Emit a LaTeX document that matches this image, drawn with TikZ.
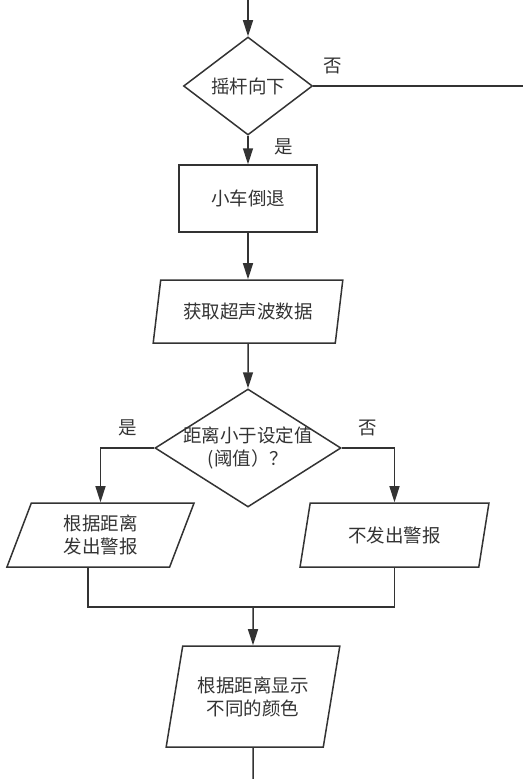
\documentclass[tikz,border=0pt]{standalone}
\usepackage{fontspec}
\newfontfamily\cjk{Noto Sans CJK SC}
\usetikzlibrary{shapes.geometric,arrows.meta}
\definecolor{ink}{HTML}{333333}

\begin{document}
\begin{tikzpicture}[x=1pt, y=-1pt,
  line/.style={draw=ink, line width=1.5pt},
  arrow/.style={line, -{Triangle[length=16pt,width=10pt]}},
  txt/.style={text=ink, font=\cjk\fontsize{18.5}{23}\selectfont, align=center, inner sep=0pt},
  decision/.style={line, txt, diamond, inner sep=-3pt},
  process/.style={line, txt, rectangle},
  io/.style={line, txt, trapezium, trapezium left angle=72, trapezium right angle=108, trapezium stretches=true}]
  \useasboundingbox (0,0) rectangle (523,779);

  % ---- Upper part: joystick and reversing ----
  \coordinate (start) at (248,0);
  \node[decision, aspect=1.32, minimum width=129pt, minimum height=98pt] (rocker) at (248,86) {摇杆向下};
  \coordinate (exit) at (523,86);
  \node[process, minimum width=138pt, minimum height=67pt] (reverse) at (248,198.5) {小车倒退};
  \node[io, minimum width=190pt, minimum height=63pt] (sonar) at (248,311.5) {获取超声波数据};
  \node[txt] (no1) at (333,66) {否};
  \node[txt] (yes1) at (284,147) {是};

  % ---- Middle part: distance check ----
  \node[decision, aspect=1.58, minimum width=186pt, minimum height=118pt] (check) at (248,448) {距离小于设定值\\(阈值）？};
  \node[io, minimum width=189pt, minimum height=64pt] (alarm) at (100.5,535) {根据距离\\发出警报};
  \node[io, minimum width=189pt, minimum height=64pt] (noalarm) at (394.5,535) {不发出警报};
  \node[txt] (yes2) at (128,428) {是};
  \node[txt] (no2) at (368,428) {否};

  % ---- Lower part: colour display ----
  \coordinate (join) at (253,607);
  \node[io, minimum width=174pt, minimum height=101pt] (color) at (253,696.5) {根据距离显示\\不同的颜色};
  \coordinate (end) at (253,779);

  % ---- Connectors ----
  \draw[arrow] (start) -- (rocker);
  \draw[line] (rocker) -- (exit);
  \draw[arrow] (rocker) -- (reverse);
  \draw[arrow] (reverse) -- (sonar);
  \draw[arrow] (sonar) -- (check);
  \draw[arrow] (check) -| (alarm);
  \draw[arrow] (check) -| (noalarm);
  \draw[line] (alarm.bottom side) |- (join) -| (noalarm);
  \draw[arrow] (join) -- (color);
  \draw[line] (color) -- (end);
\end{tikzpicture}
\end{document}
